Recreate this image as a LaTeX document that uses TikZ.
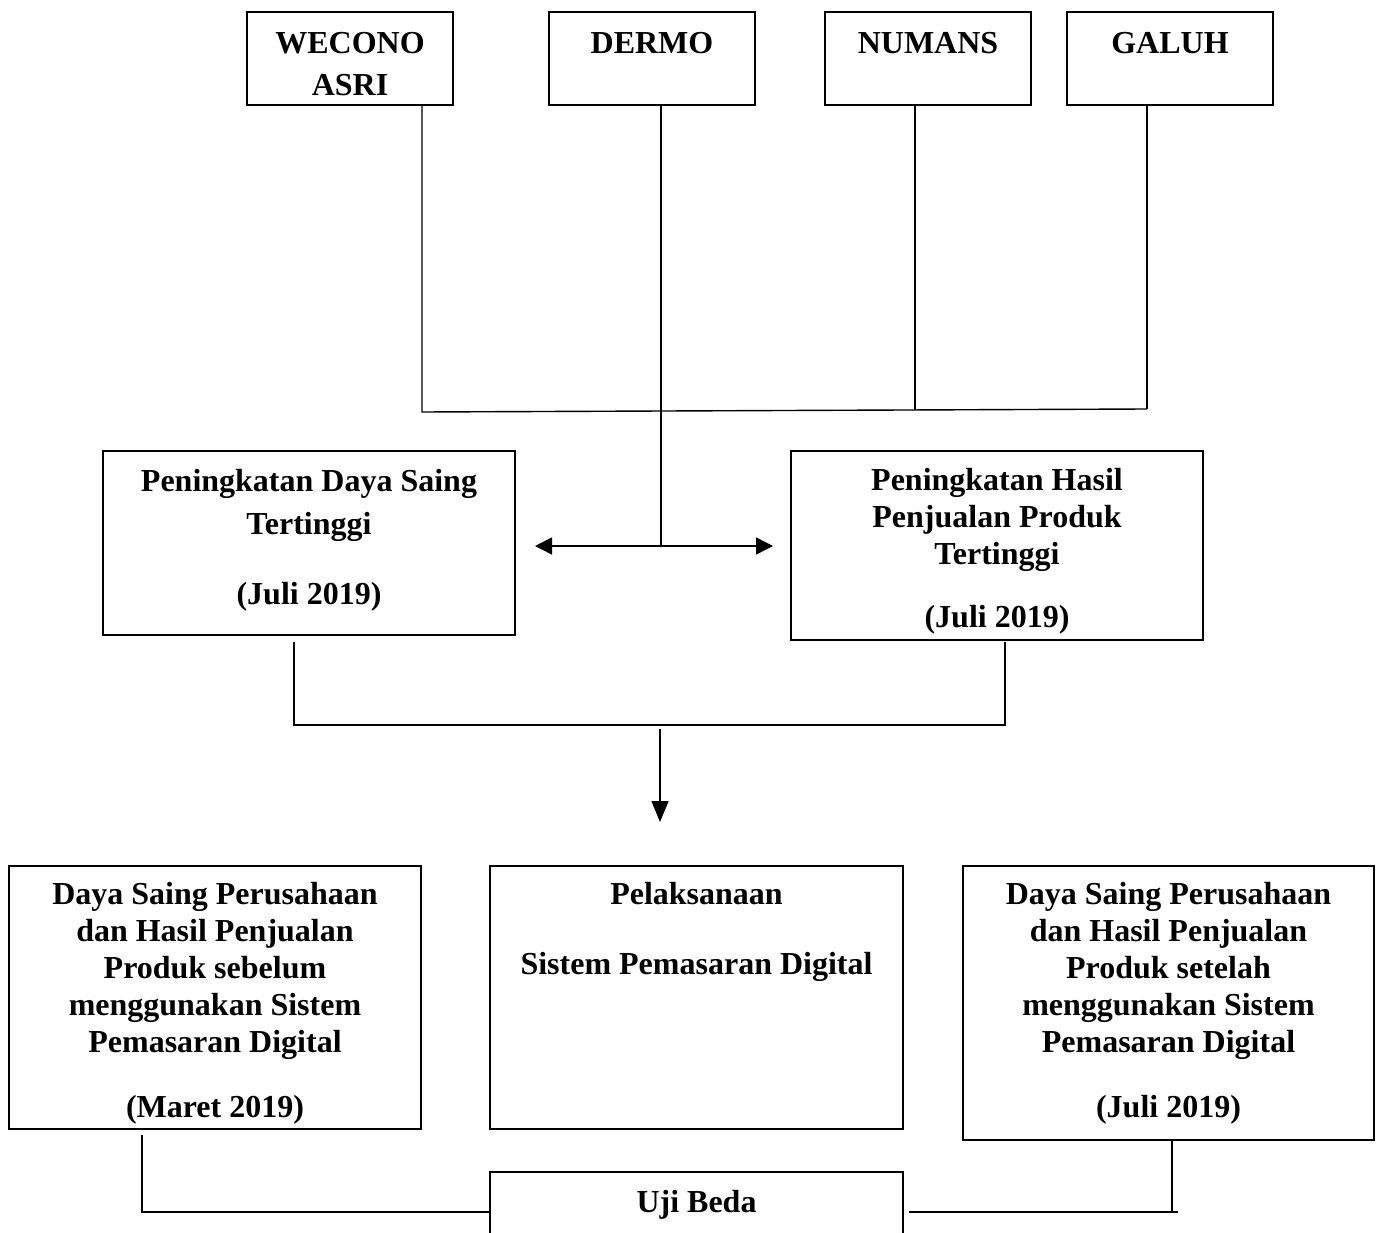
\documentclass[tikz,border=0pt]{standalone}
\usepackage{fontspec}
\setmainfont{Liberation Serif}
\usetikzlibrary{arrows.meta,positioning}

\begin{document}
\begin{tikzpicture}[x=1pt, y=-1pt,
  box/.style = {draw, line width=1.6pt, inner sep=0pt},
  txt/.style = {align=center, inner sep=0pt, font=\fontsize{32}{37}\selectfont\bfseries},
  wire/.style = {line width=1.4pt},
  tip/.style = {-{Triangle[length=21pt,width=17pt]}}]
\useasboundingbox (0,0) rectangle (1376,1233);
\clip (0,0) rectangle (1376,1233);

% top row
\node[box, minimum width=206pt, minimum height=93pt] (wecono) at (350,58.5) {};
\node[box, minimum width=206pt, minimum height=93pt] (dermo) at (652,58.5) {};
\node[box, minimum width=206pt, minimum height=93pt] (numans) at (928,58.5) {};
\node[box, minimum width=206pt, minimum height=93pt] (galuh) at (1170,58.5) {};
\node[txt, below=21pt of wecono.north] (wecono-t) {WECONO\\[5pt]ASRI};
\node[txt, below=21pt of dermo.north] (dermo-t) {DERMO};
\node[txt, below=21pt of numans.north] (numans-t) {NUMANS};
\node[txt, below=21pt of galuh.north] (galuh-t) {GALUH};

% middle row
\node[box, minimum width=412pt, minimum height=184pt] (saing) at (309,543) {};
\node[box, minimum width=412pt, minimum height=189pt] (hasil) at (997,545.5) {};
\node[txt, below=19pt of saing.north] (saing-t) {Peningkatan Daya Saing\\[6pt]Tertinggi\\[33pt](Juli 2019)};
\node[txt, below=18pt of hasil.north] (hasil-t) {Peningkatan Hasil\\Penjualan Produk\\Tertinggi\\[26pt](Juli 2019)};

% bottom row
\node[box, minimum width=412pt, minimum height=263pt] (sebelum) at (215,997.5) {};
\node[box, minimum width=413pt, minimum height=263pt] (sistem) at (696.5,997.5) {};
\node[box, minimum width=411pt, minimum height=274pt] (setelah) at (1168.5,1003) {};
\node[box, minimum width=413pt, minimum height=80pt] (uji) at (696.5,1212) {};
\node[txt, below=17pt of sebelum.north] (sebelum-t) {Daya Saing Perusahaan\\dan Hasil Penjualan\\Produk sebelum\\menggunakan Sistem\\Pemasaran Digital\\[28pt](Maret 2019)};
\node[txt, below=17pt of sistem.north] (sistem-t) {Pelaksanaan\\[33pt]Sistem Pemasaran Digital};
\node[txt, below=17pt of setelah.north] (setelah-t) {Daya Saing Perusahaan\\dan Hasil Penjualan\\Produk setelah\\menggunakan Sistem\\Pemasaran Digital\\[28pt](Juli 2019)};
\node[txt, below=19pt of uji.north] (uji-t) {Uji Beda};

% joints
\coordinate (busL) at (422,412);
\coordinate (busR) at (1147,409);
\coordinate (busN) at (915,410);
\coordinate (mid) at (661,546);
\coordinate (arL) at (535,546);
\coordinate (arR) at (773,546);
\coordinate (jL) at (294,642);
\coordinate (jR) at (1005,642);
\coordinate (low) at (660,725);
\coordinate (down) at (660,822);
\coordinate (bL) at (142,1135);
\coordinate (bR) at (1172,1141);

% connectors
\draw[wire] (wecono.south -| busL) -- (busL) -- (busR);
\draw[wire] (numans.south -| busN) -- (busN);
\draw[wire] (galuh.south -| busR) -- (busR);
\draw[wire] (dermo.south -| mid) -- (mid);
\draw[wire, {Triangle[length=17pt,width=17pt]}-{Triangle[length=17pt,width=17pt]}] (arL) -- (arR);

\draw[wire] (jL) -- (jL |- low) -- (jR |- low) -- (jR);
\draw[wire, tip] ([yshift=-4pt]low) -- (down);

\draw[wire] (bL) |- (uji.west);
\draw[wire] (bR) -- (bR |- uji.east);
\draw[wire] ([xshift=5pt]uji.east) -- ([xshift=6pt]bR |- uji.east);
\end{tikzpicture}
\end{document}
